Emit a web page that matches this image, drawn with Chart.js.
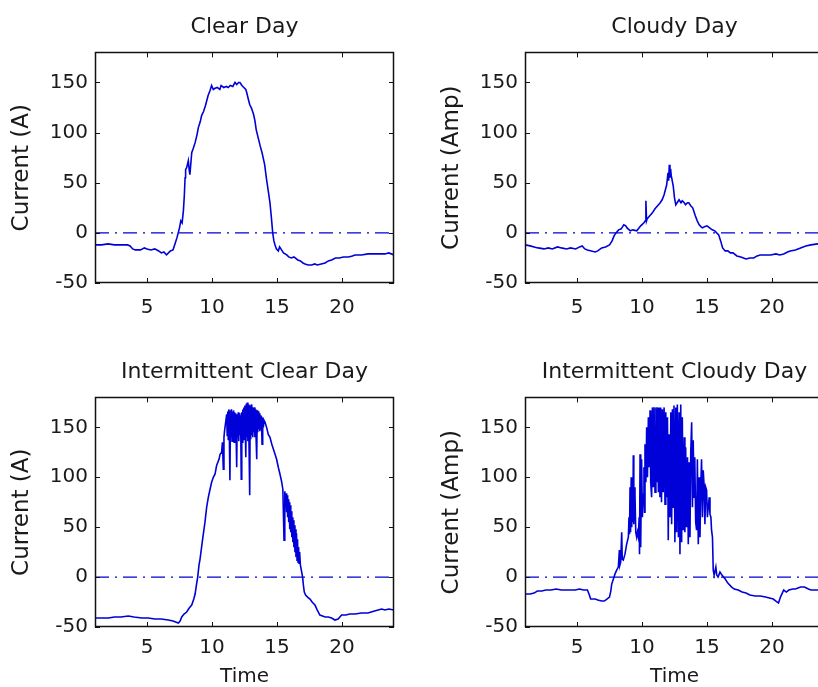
<!DOCTYPE html>
<html>
<head>
<meta charset="utf-8">
<script src="https://cdn.jsdelivr.net/npm/chart.js@4.4.1/dist/chart.umd.min.js"></script>
<style>
  html, body { margin: 0; padding: 0; background: #fff; }
  body { width: 818px; height: 687px; overflow: hidden; position: relative; }
  canvas { position: absolute; }
</style>
</head>
<body>
<canvas id="clearDay" width="409" height="340" style="left:0;top:0"></canvas>
<canvas id="cloudyDay" width="430" height="340" style="left:409px;top:0"></canvas>
<canvas id="intClearDay" width="409" height="347" style="left:0;top:340px"></canvas>
<canvas id="intCloudyDay" width="430" height="347" style="left:409px;top:340px"></canvas>
<script>
// axis ticks
const xTicks = [5, 10, 15, 20];
const yTicks = [-50, 0, 50, 100, 150];

// dash-dot reference line at zero
const zeroT = [1, 24];
const zeroI = [0, 0];

// Clear Day: time (h) and current (A)
const clearT = [
  1, 1.5, 2, 2.5, 3, 3.5, 3.7, 3.9, 4.1, 4.5,
  4.8, 5.0, 5.3, 5.6, 5.9, 6.1, 6.3, 6.5, 6.8, 7.0,
  7.15, 7.3, 7.4, 7.5, 7.6, 7.7, 7.8, 7.87, 7.93, 7.97,
  8.05, 8.18, 8.25, 8.3, 8.44, 8.55, 8.7, 8.85, 8.95, 9.1,
  9.2, 9.35, 9.5, 9.7, 9.85, 9.97, 10.1, 10.2, 10.4, 10.6,
  10.7, 10.9, 11.1, 11.25, 11.4, 11.6, 11.77, 11.9, 12.05, 12.15,
  12.3, 12.45, 12.6, 12.67, 12.8, 12.9, 13.05, 13.2, 13.3, 13.4,
  13.55, 13.7, 13.85, 13.95, 14.05, 14.2, 14.35, 14.46, 14.57, 14.67,
  14.76, 14.85, 14.95, 15.1, 15.2, 15.35, 15.5, 15.75, 15.9, 16.1,
  16.3, 16.6, 16.8, 17.0, 17.15, 17.4, 17.67, 17.9, 18.1, 18.4,
  18.7, 18.95, 19.2, 19.5, 19.8, 20.1, 20.5, 20.8, 21.0, 21.5,
  22.0, 22.3, 22.8, 23.3, 23.6, 24
];
const clearI = [
  -12, -12, -11, -12, -12, -12, -13, -16, -17, -17,
  -15, -16, -17, -16, -18, -20, -19, -22, -18, -17,
  -11, -5, 0, 5, 12, 10, 22, 37, 55, 63,
  65, 72, 62, 58, 80, 84, 90, 98, 105, 111,
  117, 121, 127, 137, 142, 147, 143, 144, 145, 143,
  147, 145, 146, 145, 147, 146, 150, 148, 150, 150,
  147, 145, 143, 140, 133, 128, 124, 118, 112, 103,
  95, 87, 80, 74, 68, 53, 40, 30, 15, 0,
  -8, -12, -16, -18, -14, -17, -20, -22, -24, -25,
  -24, -27, -28, -30, -31, -32, -32, -31, -32, -31,
  -30, -28, -27, -25, -25, -24, -24, -23, -22, -22,
  -21, -21, -21, -21, -20, -22
];

// Cloudy Day
const cloudyT = [
  1, 1.4, 1.7, 2.0, 2.46, 2.8, 3.1, 3.5, 3.8, 4.2,
  4.5, 4.9, 5.2, 5.4, 5.6, 5.8, 6.1, 6.4, 6.6, 6.9,
  7.2, 7.5, 7.7, 7.85, 8.0, 8.2, 8.4, 8.6, 8.75, 8.85,
  9.1, 9.3, 9.6, 9.9, 10.15, 10.25, 10.3, 10.35, 10.4, 10.6,
  10.8, 11.0, 11.2, 11.4, 11.55, 11.7, 11.8, 11.9, 12.0, 12.05,
  12.1, 12.15, 12.2, 12.25, 12.4, 12.5, 12.6, 12.75, 12.85, 13.0,
  13.1, 13.25, 13.35, 13.5, 13.6, 13.75, 13.9, 14.1, 14.25, 14.4,
  14.55, 14.65, 14.8, 15.0, 15.2, 15.4, 15.6, 15.9, 16.05, 16.2,
  16.4, 16.6, 16.8, 17.0, 17.3, 17.6, 18.0, 18.3, 18.6, 18.85,
  19.1, 19.5, 19.9, 20.3, 20.6, 20.9, 21.2, 21.4, 21.8, 22.2,
  22.6, 23.0, 23.5, 24
];
const cloudyI = [
  -12, -13, -14, -15, -16, -15, -16, -14, -15, -16,
  -15, -16, -14, -13, -16, -17, -18, -19, -18, -15,
  -14, -12, -8, -3, 0, 3, 4, 8, 7, 5,
  2, 3, 2, 7, 10, 12, 32, 12, 14, 17,
  20, 24, 27, 30, 33, 38, 43, 48, 60, 52,
  68, 55, 64, 57, 47, 35, 28, 31, 33, 30,
  32, 30, 28, 30, 30, 27, 25, 17, 12, 8,
  6, 5, 6, 7, 5, 3, 2, -2, -8, -15,
  -18, -18, -20, -20, -23, -24, -26, -25, -25, -23,
  -22, -22, -22, -21, -22, -21, -19, -18, -17, -15,
  -13, -12, -11, -10
];

// Intermittent Clear Day
const intClearT = [
  1, 1.5, 2.03, 2.5, 3.0, 3.56, 4.0, 4.6, 5.1, 5.6,
  6.1, 6.64, 7.0, 7.41, 7.55, 7.67, 7.85, 8.05, 8.25, 8.44,
  8.6, 8.7, 8.8, 8.9, 9.0, 9.08, 9.2, 9.3, 9.46, 9.59,
  9.72, 9.85, 9.97, 10.1, 10.23, 10.36, 10.54, 10.62, 10.74, 10.8,
  10.87, 10.92, 10.97, 11.05, 11.13, 11.17, 11.21, 11.25, 11.29, 11.33,
  11.38, 11.42, 11.46, 11.5, 11.54, 11.58, 11.62, 11.66, 11.7, 11.74,
  11.78, 11.82, 11.86, 11.9, 11.94, 11.98, 12.02, 12.06, 12.1, 12.14,
  12.18, 12.22, 12.25, 12.29, 12.33, 12.37, 12.41, 12.45, 12.49, 12.53,
  12.57, 12.6, 12.64, 12.68, 12.72, 12.76, 12.8, 12.84, 12.9, 12.94,
  12.98, 13.02, 13.06, 13.1, 13.14, 13.18, 13.22, 13.26, 13.3, 13.34,
  13.38, 13.44, 13.48, 13.52, 13.56, 13.6, 13.64, 13.68, 13.72, 13.76,
  13.8, 13.85, 13.9, 13.95, 14.0, 14.08, 14.2, 14.33, 14.46, 14.6,
  14.75, 14.85, 14.97, 15.1, 15.23, 15.35, 15.45, 15.54, 15.6, 15.66,
  15.7, 15.74, 15.78, 15.82, 15.86, 15.9, 15.94, 15.98, 16.02, 16.06,
  16.1, 16.14, 16.18, 16.22, 16.26, 16.3, 16.34, 16.38, 16.42, 16.46,
  16.5, 16.54, 16.58, 16.62, 16.66, 16.7, 16.74, 16.8, 16.9, 16.97,
  17.03, 17.1, 17.2, 17.35, 17.54, 17.7, 17.92, 18.1, 18.3, 18.5,
  18.7, 18.95, 19.2, 19.46, 19.7, 19.97, 20.3, 20.6, 21.0, 21.5,
  22.0, 22.5, 23.05, 23.3, 23.6, 24
];
const intClearI = [
  -41, -41, -41, -40, -40, -39, -40, -41, -41, -42,
  -42, -43, -44, -46, -44, -40, -37, -35, -31, -28,
  -22, -17, -8, 0, 12, 18, 30, 40, 55, 70,
  80, 88, 95, 100, 103, 112, 118, 123, 125, 135,
  108, 140, 147, 155, 163, 142, 166, 138, 168, 145,
  97, 167, 140, 168, 136, 166, 142, 167, 135, 165,
  140, 164, 138, 110, 163, 140, 165, 136, 164, 142,
  162, 138, 98, 165, 135, 168, 140, 170, 138, 172,
  142, 120, 174, 140, 175, 136, 173, 140, 82, 172,
  138, 173, 142, 170, 140, 169, 145, 170, 140, 168,
  144, 118, 167, 145, 166, 148, 164, 146, 162, 148,
  161, 133, 160, 150, 157, 155, 150, 143, 140, 133,
  127, 123, 118, 110, 103, 96, 88, 37, 86, 70,
  84, 65, 82, 60, 78, 55, 75, 48, 72, 45,
  66, 40, 60, 35, 57, 30, 52, 25, 48, 20,
  44, 17, 38, 15, 30, 14, 25, 12, 5, 0,
  -8, -15, -18, -20, -22, -25, -28, -33, -38, -39,
  -40, -40, -41, -43, -42, -38, -38, -37, -37, -36,
  -36, -34, -32, -33, -32, -33
];

// Intermittent Cloudy Day
const intCloudyT = [
  1, 1.4, 1.7, 1.95, 2.3, 2.6, 3.0, 3.4, 3.8, 4.1,
  4.5, 4.85, 5.2, 5.5, 5.8, 5.95, 6.05, 6.4, 6.6, 6.9,
  7.1, 7.3, 7.5, 7.6, 7.67, 7.8, 7.92, 8.05, 8.18, 8.26,
  8.3, 8.36, 8.44, 8.48, 8.56, 8.69, 8.82, 8.95, 9.0, 9.04,
  9.08, 9.12, 9.17, 9.21, 9.27, 9.3, 9.33, 9.37, 9.42, 9.46,
  9.52, 9.59, 9.65, 9.72, 9.78, 9.81, 9.85, 9.9, 9.97, 10.03,
  10.1, 10.15, 10.2, 10.23, 10.3, 10.36, 10.42, 10.49, 10.55, 10.62,
  10.67, 10.74, 10.8, 10.87, 10.93, 11.0, 11.07, 11.13, 11.2, 11.26,
  11.32, 11.38, 11.44, 11.5, 11.57, 11.63, 11.7, 11.77, 11.83, 11.9,
  11.96, 12.02, 12.08, 12.15, 12.22, 12.28, 12.34, 12.4, 12.46, 12.53,
  12.6, 12.66, 12.72, 12.8, 12.86, 12.92, 12.98, 13.05, 13.1, 13.18,
  13.25, 13.3, 13.36, 13.43, 13.5, 13.56, 13.62, 13.69, 13.75, 13.82,
  13.88, 13.94, 14.0, 14.06, 14.13, 14.2, 14.26, 14.33, 14.4, 14.46,
  14.52, 14.58, 14.65, 14.71, 14.77, 14.84, 14.9, 14.97, 15.03, 15.1,
  15.17, 15.23, 15.3, 15.35, 15.42, 15.48, 15.55, 15.61, 15.68, 15.75,
  15.85, 16.0, 16.15, 16.4, 16.6, 16.9, 17.1, 17.4, 17.7, 18.0,
  18.3, 18.7, 19.1, 19.5, 19.8, 20.1, 20.3, 20.5, 20.65, 20.9,
  21.1, 21.3, 21.6, 21.8, 22.2, 22.5, 22.8, 23.0, 23.5, 24
];
const intCloudyI = [
  -17, -17, -16, -14, -14, -13, -13, -12, -13, -13,
  -13, -13, -12, -13, -13, -18, -22, -22, -23, -24,
  -24, -22, -20, -14, -7, -2, 3, 7, 10, 27,
  12, 15, 45, 18, 17, 23, 33, 40, 60, 43,
  90, 45, 100, 50, 95, 55, 122, 53, 90, 83,
  45, 40, 45, 40, 60, 23, 123, 30, 118, 60,
  83, 110, 65, 133, 95, 150, 100, 160, 110, 167,
  95, 80, 170, 90, 170, 85, 170, 95, 170, 85,
  170, 80, 170, 75, 168, 85, 170, 73, 165, 80,
  160, 37, 143, 60, 165, 53, 168, 70, 172, 35,
  170, 45, 173, 40, 165, 23, 173, 35, 160, 47,
  140, 45, 130, 50, 120, 33, 115, 40, 125, 155,
  70, 137, 80, 120, 55, 47, 118, 33, 100, 40,
  90, 118, 60, 107, 93, 53, 90, 87, 60, 70,
  80, 63, 60, 47, 40, 7, 2, 2, 10, 2,
  0, 5, 2, -2, -6, -10, -12, -13, -15, -16,
  -18, -19, -19, -20, -21, -22, -24, -26, -20, -13,
  -15, -13, -12, -12, -10, -10, -12, -13, -13, -13
];

const LINE_BLUE = '#0000d8';
const TEXT = '#1a1a1a';
const FONT = '"DejaVu Sans", sans-serif';

// MATLAB style box with inward tick marks on all four sides
const boxTicks = {
  id: 'boxTicks',
  afterDatasetsDraw(chart) {
    const { ctx, chartArea: a, scales: { x, y } } = chart;
    const len = 5;
    ctx.save();
    ctx.strokeStyle = '#111';
    ctx.lineWidth = 1;
    ctx.beginPath();
    xTicks.forEach(v => {
      const px = Math.round(x.getPixelForValue(v)) + 0.5;
      ctx.moveTo(px, a.bottom); ctx.lineTo(px, a.bottom - len);
      ctx.moveTo(px, a.top); ctx.lineTo(px, a.top + len);
    });
    yTicks.forEach(v => {
      const py = Math.round(y.getPixelForValue(v)) + 0.5;
      ctx.moveTo(a.left, py); ctx.lineTo(a.left + len, py);
      ctx.moveTo(a.right, py); ctx.lineTo(a.right - len, py);
    });
    ctx.stroke();
    ctx.lineWidth = 1.5;
    ctx.strokeRect(Math.round(a.left) + 0.5, Math.round(a.top) + 0.5,
      Math.round(a.width) - 1, Math.round(a.height) - 1);
    ctx.restore();
  }
};

function points(ts, vs) {
  return ts.map((t, i) => ({ x: t, y: vs[i] }));
}

function makeChart(id, title, yLabel, times, currents, o) {
  return new Chart(document.getElementById(id), {
    type: 'scatter',
    data: {
      datasets: [
        {
          data: points(times, currents),
          showLine: true,
          borderColor: LINE_BLUE,
          borderWidth: 1.6,
          pointRadius: 0,
          tension: 0
        },
        {
          data: points(zeroT, zeroI),
          showLine: true,
          borderColor: LINE_BLUE,
          borderWidth: 1.3,
          borderDash: [14, 6, 2, 6],
          pointRadius: 0
        }
      ]
    },
    options: {
      responsive: false,
      animation: false,
      events: [],
      layout: { padding: { left: o.padLeft, right: 15, top: 0, bottom: 0 } },
      plugins: {
        legend: { display: false },
        tooltip: { enabled: false },
        title: {
          display: true,
          fullSize: false,
          text: title,
          color: TEXT,
          font: { family: FONT, size: 22, weight: 'normal', lineHeight: 1.2 },
          padding: o.titlePad
        }
      },
      scales: {
        x: {
          type: 'linear',
          min: 1,
          max: 24,
          afterBuildTicks: s => { s.ticks = xTicks.map(v => ({ value: v })); },
          afterFit: s => { s.height = o.xHeight; },
          grid: { display: false, drawTicks: false },
          border: { display: false },
          ticks: {
            color: TEXT,
            font: { family: FONT, size: 20 },
            padding: o.xTickPad,
            maxRotation: 0
          },
          title: {
            display: !!o.xTitle,
            text: o.xTitle || '',
            color: TEXT,
            font: { family: FONT, size: 20, lineHeight: 1 },
            padding: 0
          }
        },
        y: {
          type: 'linear',
          min: -50,
          max: 180,
          afterBuildTicks: s => { s.ticks = yTicks.map(v => ({ value: v })); },
          afterFit: s => { s.width = 95; },
          grid: { display: false, drawTicks: false },
          border: { display: false },
          ticks: {
            color: TEXT,
            font: { family: FONT, size: 20 },
            padding: 7
          },
          title: {
            display: true,
            text: yLabel,
            color: TEXT,
            font: { family: FONT, size: 23, lineHeight: 1.2 },
            padding: { top: 8, bottom: 0 }
          }
        }
      }
    },
    plugins: [boxTicks]
  });
}

const topOpts = { xHeight: 57, xTickPad: 13, titlePad: { top: 14, bottom: 12 } };
const bottomOpts = { xHeight: 60, xTickPad: 9, titlePad: { top: 19, bottom: 12 }, xTitle: 'Time' };

makeChart('clearDay', 'Clear Day', 'Current (A)', clearT, clearI,
  Object.assign({ padLeft: 0 }, topOpts));
makeChart('cloudyDay', 'Cloudy Day', 'Current (Amp)', cloudyT, cloudyI,
  Object.assign({ padLeft: 21 }, topOpts));
makeChart('intClearDay', 'Intermittent Clear Day', 'Current (A)', intClearT, intClearI,
  Object.assign({ padLeft: 0 }, bottomOpts));
makeChart('intCloudyDay', 'Intermittent Cloudy Day', 'Current (Amp)', intCloudyT, intCloudyI,
  Object.assign({ padLeft: 21 }, bottomOpts));
</script>
</body>
</html>
